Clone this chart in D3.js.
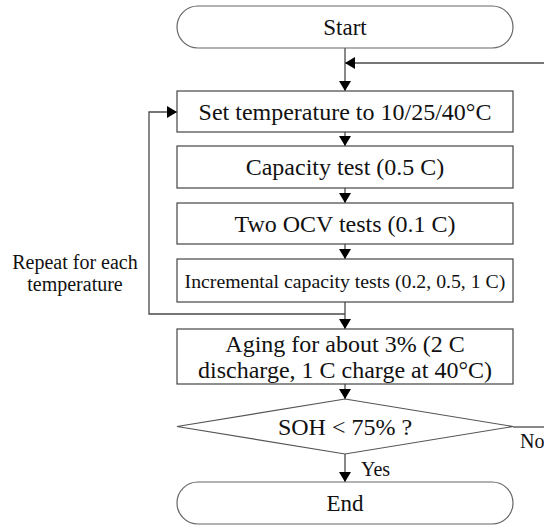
<!DOCTYPE html>
<html>
<head>
<meta charset="utf-8">
<script src="https://cdn.jsdelivr.net/npm/d3@7"></script>
<style>
html,body{margin:0;padding:0;background:#fff;}
svg{display:block;}
text{font-family:"Liberation Serif","Times New Roman",serif;fill:#111;}
</style>
</head>
<body>
<svg id="c" width="544" height="525"></svg>
<script>
// ---- data ----
const stepLabels = [
  ["Start"],
  ["Set temperature to 10/25/40°C"],
  ["Capacity test (0.5 C)"],
  ["Two OCV tests (0.1 C)"],
  ["Incremental capacity tests (0.2, 0.5, 1 C)"],
  ["Aging for about 3% (2 C", "discharge, 1 C charge at 40°C)"],
  ["SOH < 75% ?"],
  ["End"]
];
const stepKinds = ["terminal","process","process","process","process","process","decision","terminal"];
const loopLabel = ["Repeat for each", "temperature"];
const branchLabels = ["Yes", "No"];

// ---- layout ----
const svg = d3.select("#c");
const x0 = 177, x1 = 513, cx = 345;
const tops    = [6, 91, 146, 203, 259, 329, 399, 482];
const bottoms = [48, 132, 188, 244, 302, 384, 454, 524];
const fontSizes = [23, 24, 24, 24, 19.8, 24, 24, 23];

const defs = svg.append("defs");
defs.append("marker").attr("id","ah").attr("viewBox","0 0 10 12")
  .attr("refX",10).attr("refY",6).attr("markerWidth",10).attr("markerHeight",12)
  .attr("markerUnits","userSpaceOnUse").attr("orient","auto")
  .append("path").attr("d","M0,0 L10,6 L0,12 Z").attr("fill","#000");

const lineColor = "#4a4a4a";
const line = d3.line();

// connectors (drawn first)
const conn = svg.append("g").attr("fill","none").attr("stroke",lineColor).attr("stroke-width",1.3);
for (let i = 0; i < stepLabels.length - 1; i++) {
  conn.append("path").attr("d", line([[cx, bottoms[i]], [cx, tops[i+1]]]))
    .attr("marker-end","url(#ah)");
}
// loop back for each temperature
conn.append("path").attr("d", line([[cx, 314], [149, 314], [149, 112], [x0, 112]]))
  .attr("marker-end","url(#ah)");
// "No" feedback
conn.append("path").attr("d", line([[x1, 427], [544, 427]]));
conn.append("path").attr("d", line([[544, 63], [cx, 63]])).attr("marker-end","url(#ah)");

// nodes
const g = svg.append("g");
stepLabels.forEach((lab, i) => {
  const kind = stepKinds[i], t = tops[i], b = bottoms[i], h = b - t, my = (t + b) / 2;
  if (kind === "terminal") {
    g.append("rect").attr("x", x0).attr("y", t).attr("width", x1 - x0).attr("height", h)
      .attr("rx", h/2).attr("ry", h/2).attr("fill","#fff").attr("stroke","#666").attr("stroke-width",1.2);
  } else if (kind === "process") {
    g.append("rect").attr("x", x0).attr("y", t).attr("width", x1 - x0).attr("height", h)
      .attr("fill","#fff").attr("stroke","#444").attr("stroke-width",1.2);
  } else {
    g.append("path").attr("d", line([[cx, t], [x1, my], [cx, b], [x0, my]]) + "Z")
      .attr("fill","#fff").attr("stroke","#555").attr("stroke-width",1.1);
  }
  const fs = fontSizes[i];
  const lh = 26;
  lab.forEach((s, k) => {
    g.append("text").attr("x", cx).attr("y", my + (k - (lab.length - 1) / 2) * lh)
      .attr("text-anchor","middle").attr("dominant-baseline","central")
      .attr("font-size", fs).text(s);
  });
});

// side labels
loopLabel.forEach((s, k) => {
  svg.append("text").attr("x", 75).attr("y", 262 + k * 22).attr("text-anchor","middle")
    .attr("dominant-baseline","central").attr("font-size", 20).text(s);
});
svg.append("text").attr("x", 361).attr("y", 469).attr("dominant-baseline","central")
  .attr("font-size", 20).text(branchLabels[0]);
svg.append("text").attr("x", 520).attr("y", 441).attr("dominant-baseline","central")
  .attr("font-size", 20).text(branchLabels[1]);
</script>
</body>
</html>
